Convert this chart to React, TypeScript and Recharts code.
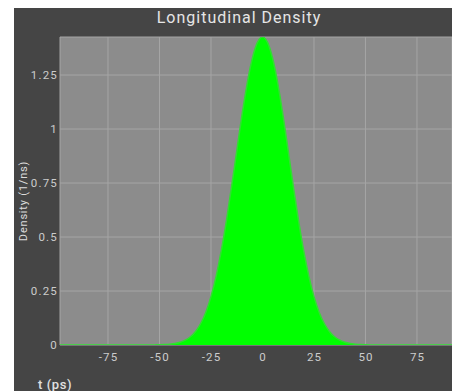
import { Area, AreaChart, CartesianGrid, XAxis, YAxis } from "recharts";

// bunch time (ps) and line density (1/ns)
const times = [
  -100, -97.5, -95, -92.5, -90, -87.5, -85, -82.5, -80, -77.5, -75, -72.5, -70, -67.5, -65, -62.5,
  -60, -57.5, -55, -52.5, -50, -47.5, -45, -42.5, -40, -37.5, -35, -32.5, -30, -27.5, -25, -22.5,
  -20, -17.5, -15, -12.5, -10, -7.5, -5, -2.5, 0, 2.5, 5, 7.5, 10, 12.5, 15, 17.5, 20, 22.5, 25,
  27.5, 30, 32.5, 35, 37.5, 40, 42.5, 45, 47.5, 50, 52.5, 55, 57.5, 60, 62.5, 65, 67.5, 70, 72.5,
  75, 77.5, 80, 82.5, 85, 87.5, 90, 92.5, 95, 97.5, 100,
];
const density = [
  0, 0, 0, 0, 0, 0, 0, 0, 0, 0, 0, 0, 0, 0, 0, 0,
  0, 0.0001, 0.0002, 0.0004, 0.0009, 0.0018, 0.0036, 0.0068, 0.0125, 0.0223, 0.038, 0.0627,
  0.0995, 0.152, 0.224, 0.319, 0.437, 0.576, 0.733, 0.898, 1.061, 1.207, 1.324, 1.4, 1.426,
  1.4, 1.324, 1.207, 1.061, 0.898, 0.733, 0.576, 0.437, 0.319, 0.224, 0.152, 0.0995, 0.0627,
  0.038, 0.0223, 0.0125, 0.0068, 0.0036, 0.0018, 0.0009, 0.0004, 0.0002, 0.0001, 0, 0, 0, 0,
  0, 0, 0, 0, 0, 0, 0, 0, 0, 0, 0, 0, 0,
];
const xTicks = [-75, -50, -25, 0, 25, 50, 75];
const yTicks = [0, 0.25, 0.5, 0.75, 1, 1.25];

const data = times.map((t, i) => ({ t, density: density[i] }));

const W = 438;
const H = 383;
const TICK = { fill: "#cccccc", fontSize: 11.5, letterSpacing: 1.2 };

export default function App() {
  return (
    <div
      style={{
        position: "fixed",
        left: 14,
        top: 8,
        width: W,
        height: H,
        background: "#454545",
        fontFamily: "Roboto, sans-serif",
      }}
    >
      <AreaChart width={W} height={H} data={data} margin={{ top: 29, right: 0, bottom: 0, left: 0 }}>
        <CartesianGrid fill="#8c8c8c" stroke="#a5a5a5" strokeWidth={1} />
        <XAxis
          dataKey="t"
          type="number"
          domain={[-98.3, 92]}
          allowDataOverflow
          ticks={xTicks}
          tick={{ ...TICK, dx: 0.6 }}
          tickLine={false}
          axisLine={false}
          height={46}
        />
        <YAxis
          type="number"
          domain={[0, 1.426]}
          allowDataOverflow
          ticks={yTicks}
          tick={{ ...TICK, dx: 6 }}
          tickLine={false}
          axisLine={false}
          width={46}
        />
        <Area
          type="monotone"
          dataKey="density"
          stroke="#33dd33"
          strokeWidth={1.5}
          fill="#00ff00"
          fillOpacity={1}
          isAnimationActive={false}
          dot={false}
          activeDot={false}
        />
      </AreaChart>
      <svg
        width={W}
        height={H}
        style={{ position: "absolute", left: 0, top: 0, pointerEvents: "none" }}
      >
        <text
          x={225}
          y={14.5}
          textAnchor="middle"
          fontSize={16}
          letterSpacing={1}
          fill="#e6e6e6"
        >
          Longitudinal Density
        </text>
        <text
          x={9}
          y={193}
          textAnchor="middle"
          dominantBaseline="central"
          fontSize={11}
          letterSpacing={0.8}
          fill="#dcdcdc"
          transform="rotate(-90 9 193)"
        >
          Density (1/ns)
        </text>
        <text x={24} y={381} fontSize={13} fontWeight={500} letterSpacing={0.6} fill="#e0e0e0">
          t (ps)
        </text>
      </svg>
    </div>
  );
}
